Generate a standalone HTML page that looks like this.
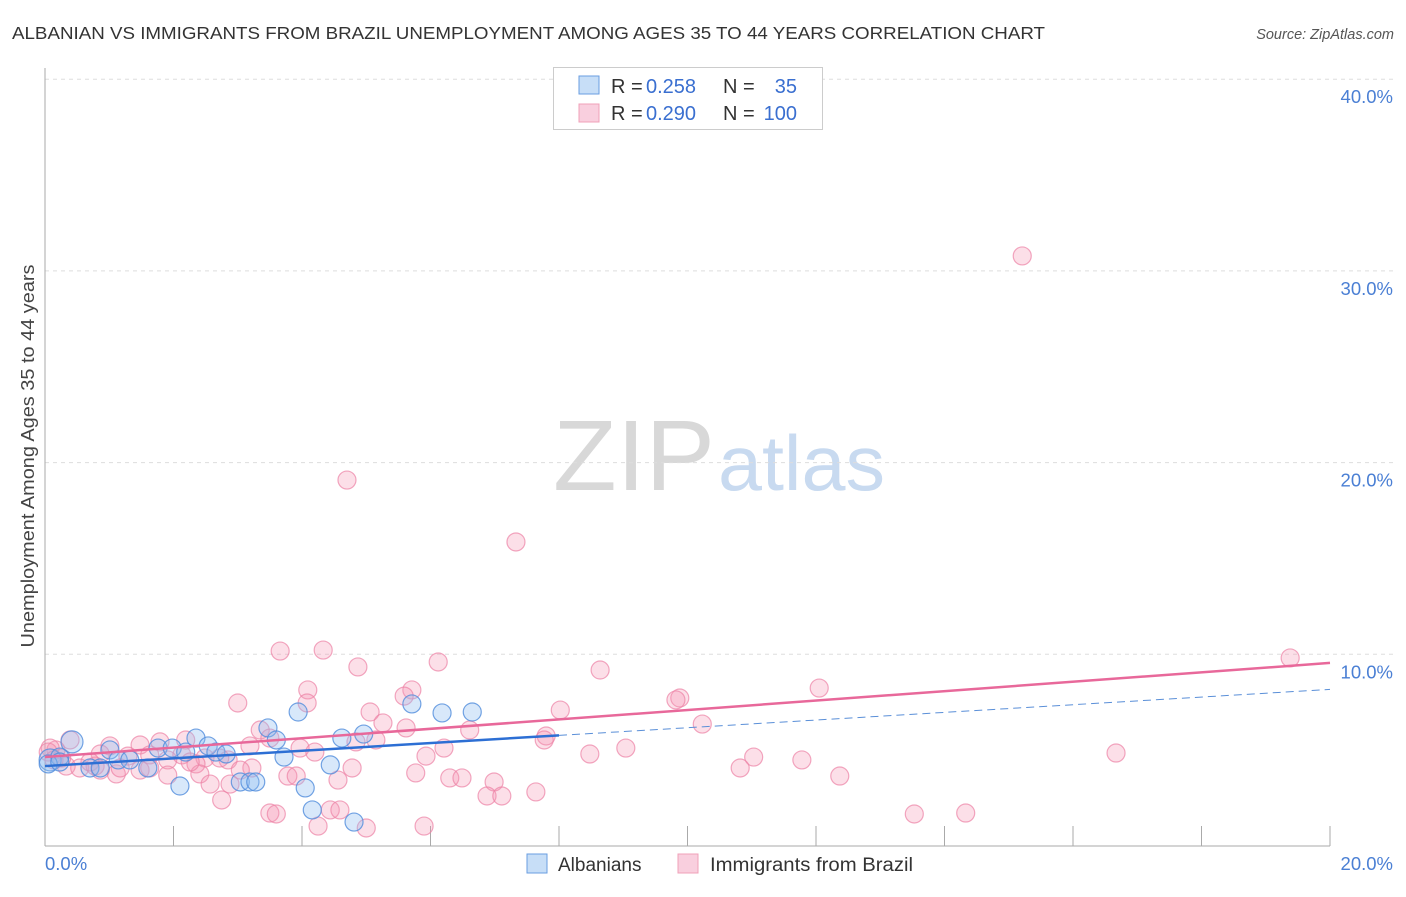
<!DOCTYPE html>
<html><head><meta charset="utf-8"><style>
body{margin:0;background:#fff;font-family:"Liberation Sans",sans-serif}
svg text{font-family:"Liberation Sans",sans-serif}
</style></head><body>
<svg id="chart" width="1406" height="892" xmlns="http://www.w3.org/2000/svg">
<text x="12" y="39" font-size="17.5" fill="#333" textLength="1033" lengthAdjust="spacingAndGlyphs">ALBANIAN VS IMMIGRANTS FROM BRAZIL UNEMPLOYMENT AMONG AGES 35 TO 44 YEARS CORRELATION CHART</text>
<text x="1394" y="39" font-size="14.5" fill="#555" text-anchor="end" font-style="italic">Source: ZipAtlas.com</text>
<g>
<text x="553" y="490" font-size="100" fill="#d8d8d8" font-family="Liberation Serif,serif" textLength="162" lengthAdjust="spacingAndGlyphs">ZIP</text>
<text x="718" y="490" font-size="78" fill="#c8daf0" textLength="167" lengthAdjust="spacingAndGlyphs">atlas</text>
</g>
<g id="grid"></g>
<g id="axes"></g>
<g id="pts"></g>
<g id="trend"></g>
<text transform="translate(34,456) rotate(-90)" font-size="18" fill="#444" text-anchor="middle" textLength="383" lengthAdjust="spacingAndGlyphs">Unemployment Among Ages 35 to 44 years</text>
<g>
<rect x="553.5" y="67.5" width="269" height="62" fill="#fff" stroke="#ccc"/>
<rect x="579" y="76" width="20" height="18" fill="rgba(144,190,240,0.5)" stroke="#6a9ee0"/>
<rect x="579" y="104" width="20" height="18" fill="rgba(244,160,190,0.5)" stroke="#f0a0b8"/>
<text x="611" y="93" font-size="20" fill="#333">R =</text>
<text x="646" y="93" font-size="20" fill="#3a6fd0">0.258</text>
<text x="723" y="93" font-size="20" fill="#333">N =</text>
<text x="797" y="93" font-size="20" fill="#3a6fd0" text-anchor="end">35</text>
<text x="611" y="120" font-size="20" fill="#333">R =</text>
<text x="646" y="120" font-size="20" fill="#3a6fd0">0.290</text>
<text x="723" y="120" font-size="20" fill="#333">N =</text>
<text x="797" y="120" font-size="20" fill="#3a6fd0" text-anchor="end">100</text>
</g>
<g>
<rect x="527" y="854" width="20" height="19" fill="rgba(144,190,240,0.5)" stroke="#6a9ee0"/>
<text x="558" y="871" font-size="19" fill="#333">Albanians</text>
<rect x="678" y="854" width="20" height="19" fill="rgba(244,160,190,0.5)" stroke="#f0a0b8"/>
<text x="710" y="871" font-size="19" fill="#333" textLength="203" lengthAdjust="spacingAndGlyphs">Immigrants from Brazil</text>
</g>
</svg>
<script>
const yTicks=[10,20,30,40];
const yTickLabels=["10.0%","20.0%","30.0%","40.0%"];
const xTicks=[0,2,4,6,8,10,12,14,16,18,20];
const blueX=[0.08,0.42,0.23,0.70,1.01,1.14,1.32,1.60,1.76,1.98,2.10,2.19,2.35,2.54,2.66,2.82,3.04,3.19,3.28,3.47,3.60,3.72,3.94,4.05,4.16,4.44,4.62,4.81,4.96,5.71,6.18,6.65,0.05,0.86,0.23];
const blueY=[4.49,5.43,4.64,4.07,5.01,4.49,4.49,4.07,5.11,5.11,3.13,4.90,5.63,5.22,4.90,4.80,3.34,3.34,3.34,6.16,5.53,4.64,6.99,3.03,1.88,4.23,5.63,1.25,5.84,7.41,6.94,6.99,4.28,4.07,4.38];
const pinkX=[15.21,4.70,7.33,19.38,3.66,4.33,4.87,6.12,8.64,4.09,5.71,5.59,9.88,9.82,12.05,3.00,4.08,5.06,8.02,5.26,5.62,3.35,6.61,10.23,7.80,7.77,5.15,4.84,2.19,1.79,1.48,1.01,3.19,3.97,4.20,6.21,9.04,8.48,16.67,11.03,11.78,0.86,1.29,1.63,1.91,2.49,0.17,0.08,0.33,0.54,0.78,1.11,2.35,2.85,3.22,2.41,1.91,1.48,5.93,4.78,10.82,3.78,3.91,5.77,6.30,6.49,6.99,12.37,2.57,2.88,4.56,6.88,7.11,7.64,2.75,3.50,3.60,4.44,4.59,4.25,5.00,5.90,13.53,14.33,0.39,0.70,1.17,0.86,2.13,2.72,3.50,2.26,0.05,0.26,0.14,1.63,3.04];
const pinkY=[30.78,19.09,15.86,9.81,10.17,10.22,9.34,9.60,9.18,8.14,8.14,7.82,7.72,7.62,8.24,7.46,7.46,6.99,7.09,6.42,6.16,6.05,6.05,6.36,5.74,5.53,5.53,5.43,5.53,5.43,5.27,5.22,5.22,5.11,4.90,5.11,5.11,4.80,4.85,4.64,4.49,4.80,4.69,4.75,4.49,4.59,5.01,5.11,4.17,4.07,4.17,3.76,4.28,4.49,4.07,3.76,3.70,3.96,4.69,4.07,4.07,3.65,3.65,3.81,3.55,3.55,3.34,3.65,3.23,3.23,3.44,2.61,2.61,2.82,2.40,1.72,1.67,1.88,1.88,1.04,0.94,1.04,1.67,1.72,5.53,4.38,4.07,3.96,4.75,4.59,5.63,4.38,4.90,4.59,4.49,4.07,3.96];
const blueTrend=[4.17,0.2];   // intercept, slope
const pinkTrend=[4.64,0.2455];
const X0=45,X1=1330,Y0=846,YPX=19.17;
const sx=v=>X0+v*(X1-X0)/20, sy=v=>Y0-v*YPX;
const NS="http://www.w3.org/2000/svg";
function mk(t,a,p){const e=document.createElementNS(NS,t);for(const k in a)e.setAttribute(k,a[k]);document.getElementById(p).appendChild(e);return e;}
yTicks.forEach((v,i)=>{
 const l=mk('line',{x1:X0,x2:1393,y1:sy(v),y2:sy(v),stroke:'#ddd','stroke-dasharray':'4,4'},'grid');
 
 
 const t=mk('text',{x:1393,y:sy(v)+24,'font-size':18.5,fill:'#4a7fd4','text-anchor':'end'},'grid');
 t.textContent=yTickLabels[i];
 
 
});
const ax=mk('line',{x1:X0,x2:X0,y1:68,y2:Y0,stroke:'#aaa'},'axes');


const bx=mk('line',{x1:X0,x2:X1,y1:Y0,y2:Y0,stroke:'#aaa'},'axes');


xTicks.forEach(v=>{const t=mk('line',{x1:sx(v),x2:sx(v),y1:826,y2:Y0,stroke:'#aaa'},'axes');
 
 });
[[0,'0.0%','start',45],[20,'20.0%','end',1393]].forEach(d=>{const t=mk('text',{x:d[3],y:870,'font-size':18.5,fill:'#4a7fd4','text-anchor':d[2]},'axes');t.textContent=d[1];
 
 });
pinkX.forEach((x,i)=>{const c=mk('circle',{cx:sx(x),cy:sy(pinkY[i]),r:9,fill:'rgba(244,150,180,0.3)',stroke:'rgba(236,130,165,0.7)','stroke-width':1.2},'pts');
 
 });
blueX.forEach((x,i)=>{const c=mk('circle',{cx:sx(x),cy:sy(blueY[i]),r:i<2?11:9,fill:'rgba(144,190,240,0.35)',stroke:'rgba(80,140,220,0.8)','stroke-width':1.2},'pts');
 
 });
const f=(t,x)=>t[0]+t[1]*x;
const pl=mk('line',{x1:sx(0),y1:sy(f(pinkTrend,0)),x2:sx(20),y2:sy(f(pinkTrend,20)),stroke:'#e8689a','stroke-width':2.5},'trend');


const bl=mk('line',{x1:sx(0),y1:sy(f(blueTrend,0)),x2:sx(8),y2:sy(f(blueTrend,8)),stroke:'#2d6fd4','stroke-width':2.5},'trend');


const bd=mk('line',{x1:sx(8),y1:sy(f(blueTrend,8)),x2:sx(20),y2:sy(f(blueTrend,20)),stroke:'#5a8fd8','stroke-width':1,'stroke-dasharray':'8,5'},'trend');


</script>
</body></html>
